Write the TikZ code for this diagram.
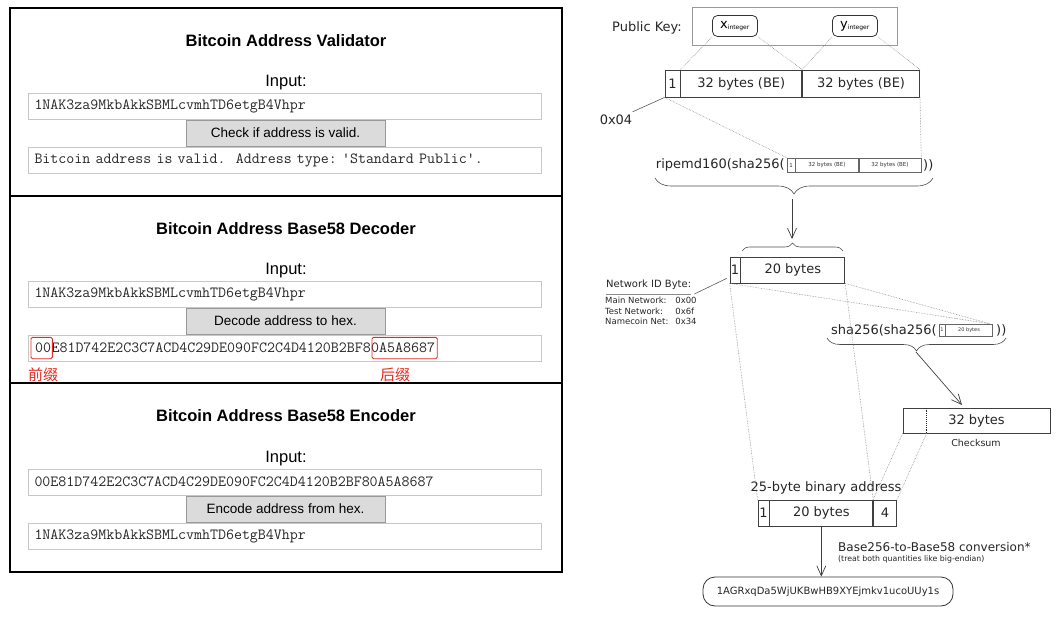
\documentclass[tikz,border=0pt]{standalone}
\usepackage{fontspec}
\setmainfont{DejaVu Sans}
\newfontfamily\arialfont{Liberation Sans}
\newfontfamily\cjkfont{Noto Sans CJK SC}
\usepackage{xcolor}
\usepackage{tikz}
\usetikzlibrary{positioning, arrows.meta, decorations.pathreplacing}

\definecolor{markred}{RGB}{230,40,30}

\tikzset{
  ptitle/.style={font=\arialfont\bfseries\fontsize{16.5}{18}\selectfont},
  pinput/.style={font=\arialfont\fontsize{16.5}{18}\selectfont},
  field/.style={draw=black!22, line width=0.8pt, minimum width=513pt, minimum height=26pt,
    text width=500pt, inner xsep=6.5pt, inner ysep=0pt, align=left, text=black!85,
    font=\ttfamily\fontsize{15.5}{16}\selectfont\frenchspacing},
  button/.style={draw=black!40, fill=black!14, minimum width=199pt, minimum height=26pt,
    inner sep=0pt, font=\arialfont\fontsize{13.5}{14}\selectfont},
  hexpart/.style={inner sep=0pt, minimum height=21pt, text=black!85,
    font=\ttfamily\fontsize{15.5}{16}\selectfont},
  redmark/.style={draw=markred, line width=0.9pt, rounded corners=1.5pt},
  redlab/.style={text=markred, font=\cjkfont\fontsize{15}{16}\selectfont},
  cell/.style={draw=black!75, line width=0.8pt, minimum height=27pt, inner sep=0pt,
    text=black!85, font=\fontsize{13}{14}\selectfont},
  minicell/.style={draw=black!60, line width=0.5pt, minimum height=14pt, inner sep=0pt,
    text=black!80, font=\fontsize{5.5}{6}\selectfont},
  intbox/.style={draw=black!80, line width=0.8pt, rounded corners=5pt, minimum width=45pt,
    minimum height=21pt, inner sep=0pt, font=\fontsize{13}{14}\selectfont},
  txt/.style={text=black!85, inner sep=0pt, font=\fontsize{13}{14}\selectfont},
  link/.style={densely dotted, black!45, line width=0.6pt},
  solid link/.style={black!65, line width=0.6pt},
  brc/.style={decorate, black!70, line width=0.6pt},
  flow/.style={->, black!75, line width=0.7pt}
}

\begin{document}
\begin{tikzpicture}[x=1pt, y=-1pt, >={Straight Barb[length=10pt,width=9pt]}]
  \useasboundingbox (0,0) rectangle (1061,618);

  %% web page frame
  \draw[black, line width=1.2pt] (10,8) rectangle (562,572);
  \draw[black, line width=2pt] (10,196) -- (562,196);
  \draw[black, line width=2pt] (10,383) -- (562,383);

  %% validator
  \node[ptitle] (valtitle) at (286,41) {Bitcoin Address Validator};
  \node[pinput] (valinlab) at (286,83) {Input:};
  \node[field]  (valin)  at (284.5,106) {1NAK3za9MkbAkkSBMLcvmhTD6etgB4Vhpr};
  \node[button] (valbtn) at (285.5,133) {Check if address is valid.};
  \node[field]  (valout) at (284.5,160) {Bitcoin address is valid.\ \ Address type: \textquotesingle Standard Public\textquotesingle.};

  %% decoder
  \node[ptitle] (dectitle) at (286,229) {Bitcoin Address Base58 Decoder};
  \node[pinput] (decinlab) at (286,271) {Input:};
  \node[field]  (decin)  at (284.5,294) {1NAK3za9MkbAkkSBMLcvmhTD6etgB4Vhpr};
  \node[button] (decbtn) at (285.5,321) {Decode address to hex.};
  \node[field]  (decout) at (284.5,348) {};
  \node[hexpart, anchor=west] (decpre) at (35,348) {00};
  \node[hexpart, right=0pt of decpre] (decmid) {E81D742E2C3C7ACD4C29DE090FC2C4D4120B2BF8};
  \node[hexpart, right=0pt of decmid] (decsuf) {0A5A8687};
  \draw[redmark] ([xshift=-4pt]decpre.south west) rectangle ([xshift=1pt]decpre.north east);
  \draw[redmark] ([xshift=1pt]decsuf.south west) rectangle ([xshift=2pt]decsuf.north east);
  \node[redlab] (prelab) at (43,375) {前缀};
  \node[redlab] (suflab) at (395,375) {后缀};

  %% encoder
  \node[ptitle] (enctitle) at (286,416) {Bitcoin Address Base58 Encoder};
  \node[pinput] (encinlab) at (286,459) {Input:};
  \node[field]  (encin)  at (284.5,482) {00E81D742E2C3C7ACD4C29DE090FC2C4D4120B2BF80A5A8687};
  \node[button] (encbtn) at (285.5,509) {Encode address from hex.};
  \node[field]  (encout) at (284.5,536) {1NAK3za9MkbAkkSBMLcvmhTD6etgB4Vhpr};

  %% public key
  \node[draw=black!40, line width=0.8pt, minimum width=205pt, minimum height=38pt] (pkbox) at (794.5,26) {};
  \node[txt, anchor=east] (pklab) at (682,28) {Public Key:};
  \node[intbox] (xint) at (735,26) {x\textsubscript{\fontsize{6}{6}\selectfont integer}};
  \node[intbox] (yint) at (855,26) {y\textsubscript{\fontsize{6}{6}\selectfont integer}};

  % 65 bytes
  \node[cell, minimum width=15pt] (pk1) at (672.5,83.5) {1};
  \node[cell, minimum width=121pt, right=0pt of pk1] (pkx) {32 bytes (BE)};
  \node[cell, minimum width=117pt, right=0pt of pkx] (pky) {32 bytes (BE)};
  \draw[link] (xint.south west) -- (pkx.north west);
  \draw[link] (xint.south east) -- (pkx.north east);
  \draw[link] (yint.south west) -- (pky.north west);
  \draw[link] (yint.south east) -- (pky.north east);
  \node[txt] (lab04) at (616,120) {0x04};
  \draw[solid link] ([yshift=3pt]lab04.north east) -- (pk1.south west);

  % ripemd160
  \node[txt, anchor=east] (rip) at (785,165) {ripemd160(sha256(};
  \node[minicell, minimum width=8pt] (mb1) at (791,165) {1};
  \node[minicell, minimum width=63pt, right=0pt of mb1] (mbx) {32 bytes (BE)};
  \node[minicell, minimum width=62pt, right=0pt of mbx] (mby) {32 bytes (BE)};
  \node[txt, anchor=west] (ripend) at (923,165) {))};
  \draw[link] (pk1.south west) -- (mb1.north west);
  \draw[link] (pky.south east) -- (mby.north east);
  \draw[brc, decoration={brace, amplitude=16pt}] (933,178) -- (655,178);
  \coordinate (riptip) at (792,199);
  \coordinate (nbtip) at (792,239);
  \draw[flow] (riptip) -- (nbtip);
  \draw[brc, decoration={brace, amplitude=8pt}] (742,251) -- (843,251);

  % 21 bytes
  \node[cell, minimum width=10pt, minimum height=26pt] (nb1) at (735,270) {1};
  \node[cell, minimum width=104pt, minimum height=26pt, right=0pt of nb1] (nb20) {20 bytes};
  \node[txt, anchor=west, font=\fontsize{10}{11}\selectfont] (netid) at (606,285) {Network ID Byte:};
  \draw[black!45, line width=0.6pt] ([yshift=-4pt]netid.south west) -- ([yshift=-4pt]netid.south east);
  \draw[solid link] ([xshift=3pt, yshift=-4pt]netid.south east) -- ([xshift=-3pt, yshift=5pt]nb1.south west);
  \node[txt, anchor=north west, font=\fontsize{8.5}{10.5}\selectfont] (nettab) at (605,296)
    {\begin{tabular}{@{}l@{\hspace{7pt}}l@{}}Main Network: & 0x00\\ Test Network: & 0x6f\\ Namecoin Net: & 0x34\end{tabular}};

  % checksum
  \node[txt, anchor=east] (sha) at (937,330) {sha256(sha256(};
  \node[minicell, minimum width=6pt, minimum height=12pt, font=\fontsize{5}{5}\selectfont] (sb1) at (942,330) {1};
  \node[minicell, minimum width=47pt, minimum height=12pt, font=\fontsize{5}{5}\selectfont, right=0pt of sb1] (sb20) {20 bytes};
  \node[txt, anchor=west] (shaend) at (996,330) {))};
  \draw[link] (nb1.south west) -- ([xshift=-3pt]sb20.north east);
  \draw[link] (nb20.south east) -- ([xshift=-3pt]sb20.north east);
  \draw[brc, decoration={brace, amplitude=13pt}] (1006,338) -- (827,338);
  \coordinate (shatip) at (916,352);
  \coordinate (cktip) at (962,405);
  \draw[flow] (shatip) -- (cktip);
  \node[cell, minimum width=147pt, minimum height=25pt] (ck) at (976.5,420.5) {32 bytes};
  \draw[densely dotted, black!85, line width=0.9pt] ([xshift=24pt]ck.north west) -- ([xshift=24pt]ck.south west);
  \node[txt, font=\fontsize{9.5}{10}\selectfont] (cklab) at (976,443) {Checksum};

  % 25 bytes
  \node[txt] (addrlab) at (826,488) {25-byte binary address};
  \node[cell, minimum width=11pt, minimum height=26pt] (ab1) at (763.5,513) {1};
  \node[cell, minimum width=103pt, minimum height=26pt, right=0pt of ab1] (ab20) {20 bytes};
  \node[cell, minimum width=23pt, minimum height=26pt, right=0pt of ab20] (ab4) {4};
  \draw[link] (nb1.south west) -- (ab1.north west);
  \draw[link] (nb20.south east) -- (ab4.north west);
  \draw[link] (ck.south west) -- (ab4.north west);
  \draw[link] ([xshift=24pt]ck.south west) -- (ab4.north east);

  % base58
  \node[draw=black!80, line width=0.8pt, rounded corners=12pt, minimum width=250pt, minimum height=29pt,
    txt, font=\fontsize{10}{11}\selectfont] (addr) at (828,591.5) {1AGRxqDa5WjUKBwHB9XYEjmkv1ucoUUy1s};
  \draw[flow] (ab20.south) -- (ab20.south |- addr.north);
  \node[txt, anchor=west, font=\fontsize{12}{13}\selectfont] (convlab) at (838,547) {Base256-to-Base58 conversion*};
  \node[txt, anchor=west, font=\fontsize{7.8}{8}\selectfont] (convnote) at (838,559) {(treat both quantities like big-endian)};

\end{tikzpicture}
\end{document}
